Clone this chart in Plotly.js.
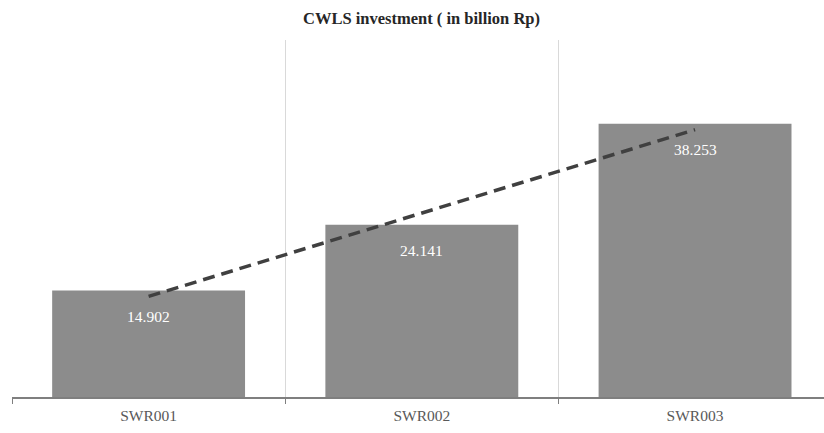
<!DOCTYPE html>
<html>
<head>
<meta charset="utf-8">
<script src="https://cdn.plot.ly/plotly-3.0.1.min.js"></script>
<style>html,body{margin:0;padding:0;background:#fff;}#chart{width:824px;height:433px;}</style>
</head>
<body>
<div id="chart"></div>
<script>
const categories = ["SWR001", "SWR002", "SWR003"];
const investment = [14.902, 24.141, 38.253];
const valueLabels = ["14.902", "24.141", "38.253"];

// Linear trendline (least squares) over the bar values
const n = investment.length;
const xs = investment.map((_, i) => i);
const mx = xs.reduce((a, b) => a + b, 0) / n;
const my = investment.reduce((a, b) => a + b, 0) / n;
let num = 0, den = 0;
for (let i = 0; i < n; i++) { num += (xs[i] - mx) * (investment[i] - my); den += (xs[i] - mx) ** 2; }
const slope = num / den, intercept = my - slope * mx;
const trend = xs.map(x => intercept + slope * x);

const serif = "Liberation Serif, DejaVu Serif, serif";

const traces = [
  {
    type: "bar", x: categories, y: investment,
    marker: { color: "#8c8c8c" },
    hoverinfo: "skip", showlegend: false
  },
  {
    type: "scatter", mode: "lines", x: categories, y: trend,
    line: { color: "#404040", width: 3.5, dash: "12px,7px" },
    hoverinfo: "skip", showlegend: false
  }
];

const annotations = categories.map((c, i) => ({
  x: c, y: investment[i], xref: "x", yref: "y",
  text: valueLabels[i], showarrow: false, yshift: -26,
  font: { family: serif, size: 15.5, color: "#ffffff" }
}));

const layout = {
  width: 824, height: 433,
  margin: { l: 12, r: 0, t: 40, b: 36 },
  paper_bgcolor: "#ffffff", plot_bgcolor: "#ffffff",
  bargap: 0.294,
  title: {
    text: "<b>CWLS investment ( in billion Rp)</b>",
    font: { family: serif, size: 16.5, color: "#262626" },
    xref: "container", x: 0.5115, xanchor: "center",
    yref: "container", y: 0.958, yanchor: "middle"
  },
  xaxis: {
    type: "category", range: [-0.5, 2.472],
    tickson: "boundaries", ticks: "outside", ticklen: 5, tickcolor: "#7f7f7f",
    ticklabelstandoff: 4,
    showgrid: true, gridcolor: "#d9d9d9", gridwidth: 1,
    showline: true, linecolor: "#7f7f7f", linewidth: 1.5,
    tickfont: { family: serif, size: 15.5, color: "#595959" },
    fixedrange: true
  },
  yaxis: {
    range: [0, 50], showgrid: false, zeroline: false, showline: false,
    showticklabels: false, ticks: "", fixedrange: true
  },
  annotations: annotations
};

Plotly.newPlot("chart", traces, layout, { displayModeBar: false, staticPlot: true });
</script>
</body>
</html>
